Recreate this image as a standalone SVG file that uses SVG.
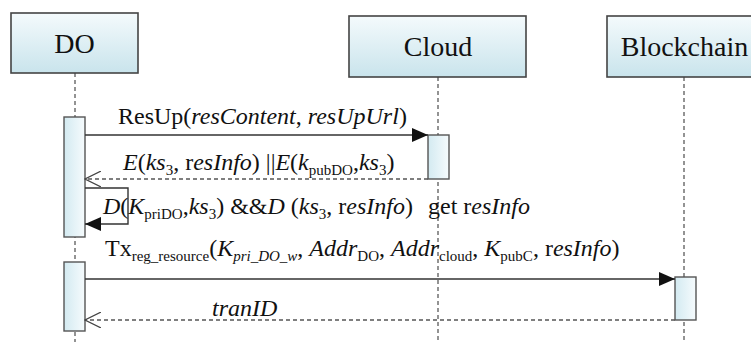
<svg xmlns="http://www.w3.org/2000/svg" width="751" height="342" viewBox="0 0 751 342">
<defs>
<linearGradient id="gHead" x1="0" y1="0" x2="0" y2="1">
<stop offset="0" stop-color="#f4fafc"/>
<stop offset="1" stop-color="#c9e4ec"/>
</linearGradient>
<linearGradient id="gAct" x1="0" y1="0" x2="1" y2="0">
<stop offset="0" stop-color="#d3eaf1"/>
<stop offset="1" stop-color="#f6fbfd"/>
</linearGradient>
<marker id="filled" viewBox="0 0 16 14" refX="16" refY="7" markerWidth="16" markerHeight="14" markerUnits="userSpaceOnUse" orient="auto">
<path d="M0,0 L16,7 L0,14 Z" fill="#111"/>
</marker>
<marker id="open" viewBox="0 0 17 16" refX="16" refY="8" markerWidth="17" markerHeight="16" markerUnits="userSpaceOnUse" orient="auto">
<path d="M0,0 L16,8 L0,16" fill="none" stroke="#444" stroke-width="1.2"/>
</marker>
</defs>
<style>
.head{fill:url(#gHead);stroke:#444;stroke-width:1.6}
.act{fill:url(#gAct);stroke:#555;stroke-width:1.4}
.life{stroke:#666;stroke-width:1.4;stroke-dasharray:4 3;fill:none}
.msg{stroke:#333;stroke-width:1.4;fill:none}
.ret{stroke:#555;stroke-width:1.3;stroke-dasharray:4 3;fill:none}
text{fill:#111}
.title{font-size:28px}
.lbl{font-size:24px}
.i{font-style:italic}
.s{font-size:15px}
</style>
<rect width="751" height="342" fill="#fff"/>

<g id="lifelines">
<line class="life" x1="75" y1="73" x2="75" y2="342"/>
<line class="life" x1="438" y1="77" x2="438" y2="342"/>
<line class="life" x1="684" y1="77" x2="684" y2="342"/>
</g>

<g id="DO">
<rect class="head" x="11" y="13" width="127" height="60"/>
<text class="title" font-family="Liberation Serif, DejaVu Serif, serif" x="74.5" y="53" text-anchor="middle">DO</text>
</g>
<g id="Cloud">
<rect class="head" x="349" y="16" width="177" height="61"/>
<text class="title" font-family="Liberation Serif, DejaVu Serif, serif" x="438" y="56" text-anchor="middle">Cloud</text>
</g>
<g id="Blockchain">
<rect class="head" x="607" y="16" width="154" height="61"/>
<text class="title" font-family="Liberation Serif, DejaVu Serif, serif" x="684.5" y="56" text-anchor="middle">Blockchain</text>
</g>

<g id="activations">
<rect class="act" x="64" y="117" width="21" height="120"/>
<rect class="act" x="428" y="135" width="21" height="44"/>
<rect class="act" x="64" y="262" width="21" height="69"/>
<rect class="act" x="675" y="277" width="21" height="43"/>
</g>

<g id="connectors">
<line class="msg" x1="85" y1="135" x2="428" y2="135" marker-end="url(#filled)"/>
<line class="ret" x1="428" y1="179" x2="85" y2="179" marker-end="url(#open)"/>
<polyline class="msg" points="85,188 128,188 128,224 85,224" marker-end="url(#filled)"/>
<line class="msg" x1="85" y1="279" x2="675" y2="279" marker-end="url(#filled)"/>
<line class="ret" x1="675" y1="320" x2="85" y2="320" marker-end="url(#open)"/>
</g>

<g id="labels" font-family="Liberation Serif, DejaVu Serif, serif">
<text class="lbl" x="118" y="124">ResUp(<tspan class="i">resContent</tspan>, <tspan class="i">resUpUrl</tspan>)</text>
<text class="lbl" x="123" y="170"><tspan class="i">E</tspan>(<tspan class="i">ks</tspan><tspan class="s" dy="5">3</tspan><tspan dy="-5">, r</tspan><tspan class="i">esInfo</tspan>) ||<tspan class="i">E</tspan>(<tspan class="i">k</tspan><tspan class="s" dy="5">pubDO</tspan><tspan dy="-5">,</tspan><tspan class="i">ks</tspan><tspan class="s" dy="5">3</tspan><tspan dy="-5">)</tspan></text>
<text class="lbl" x="103" y="214"><tspan class="i">D</tspan>(<tspan class="i">K</tspan><tspan class="s" dy="5">priDO</tspan><tspan dy="-5">,</tspan><tspan class="i">ks</tspan><tspan class="s" dy="5">3</tspan><tspan dy="-5">) &amp;&amp;</tspan><tspan class="i">D</tspan> (<tspan class="i">ks</tspan><tspan class="s" dy="5">3</tspan><tspan dy="-5">, r</tspan><tspan class="i">esInfo</tspan>)</text>
<text class="lbl" x="428" y="214">get r<tspan class="i">esInfo</tspan></text>
<text class="lbl" x="105" y="256">Tx<tspan class="s" dy="5">reg_resource</tspan><tspan dy="-5">(</tspan><tspan class="i">K</tspan><tspan class="s i" dy="5">pri_DO_w</tspan><tspan dy="-5">, </tspan><tspan class="i">Addr</tspan><tspan class="s" dy="5">DO</tspan><tspan dy="-5">, </tspan><tspan class="i">Addr</tspan><tspan class="s" dy="5">cloud</tspan><tspan dy="-5">, </tspan><tspan class="i">K</tspan><tspan class="s" dy="5">pubC</tspan><tspan dy="-5">, r</tspan><tspan class="i">esInfo</tspan>)</text>
<text class="lbl i" x="212" y="316">tranID</text>
</g>
</svg>
